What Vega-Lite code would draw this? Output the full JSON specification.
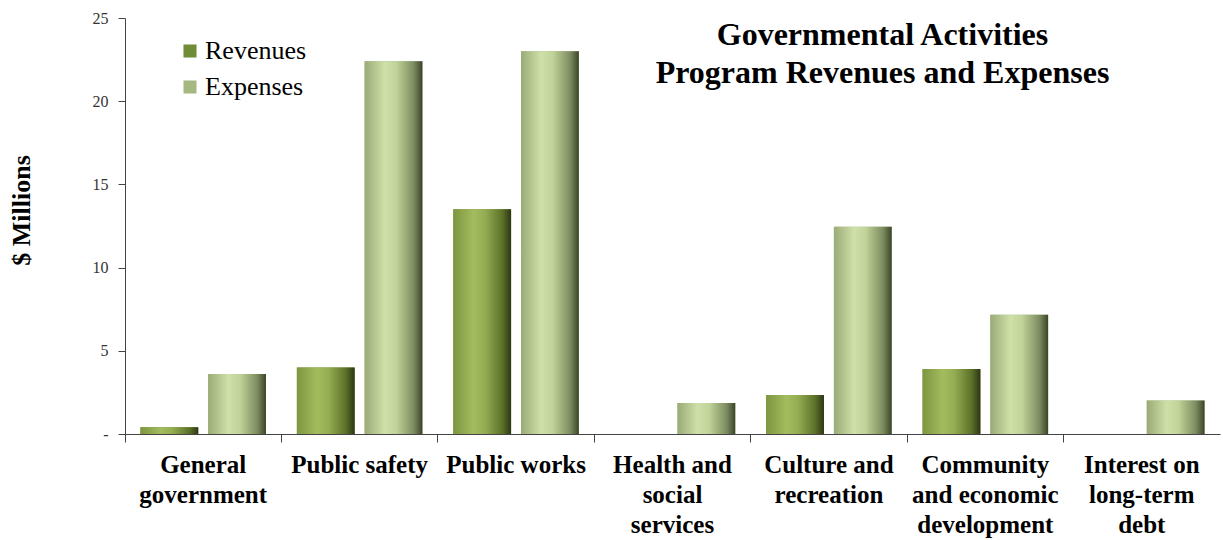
{
  "$schema": "https://vega.github.io/schema/vega-lite/v6.json",
  "autosize": {"type": "none"},
  "padding": {"left": 125, "top": 18, "right": 3, "bottom": 106},
  "width": 1095,
  "height": 416,
  "background": "white",
  "title": {
    "text": ["Governmental Activities", "Program Revenues and Expenses"],
    "anchor": "middle",
    "frame": "group",
    "orient": "top",
    "offset": -112,
    "dx": 210,
    "baseline": "bottom",
    "font": "Liberation Serif",
    "fontWeight": "bold",
    "fontSize": 32,
    "lineHeight": 38,
    "color": "#000000"
  },
  "data": {
    "values": [
      {"category": "General government", "series": "Revenues", "value": 0.4},
      {"category": "General government", "series": "Expenses", "value": 3.6},
      {"category": "Public safety", "series": "Revenues", "value": 4.0},
      {"category": "Public safety", "series": "Expenses", "value": 22.4},
      {"category": "Public works", "series": "Revenues", "value": 13.5},
      {"category": "Public works", "series": "Expenses", "value": 23.0},
      {"category": "Health and social services", "series": "Revenues", "value": 0},
      {"category": "Health and social services", "series": "Expenses", "value": 1.86},
      {"category": "Culture and recreation", "series": "Revenues", "value": 2.34},
      {"category": "Culture and recreation", "series": "Expenses", "value": 12.45},
      {"category": "Community and economic development", "series": "Revenues", "value": 3.9},
      {"category": "Community and economic development", "series": "Expenses", "value": 7.16},
      {"category": "Interest on long-term debt", "series": "Revenues", "value": 0},
      {"category": "Interest on long-term debt", "series": "Expenses", "value": 2.02}
    ]
  },
  "encoding": {
    "x": {
      "field": "category",
      "type": "nominal",
      "sort": null,
      "scale": {"paddingInner": 0, "paddingOuter": 0},
      "axis": {
        "title": null,
        "bandPosition": 0,
        "labelAngle": 0,
        "labelFont": "Liberation Serif",
        "labelFontWeight": "bold",
        "labelFontSize": 25,
        "labelLineHeight": 30,
        "labelColor": "#000000",
        "labelPadding": 10,
        "labelLimit": 0,
        "labelOverlap": false,
        "tickSize": 8,
        "tickColor": "#444444",
        "domainColor": "#444444",
        "labelExpr": "{'General government': ['General', 'government'], 'Public safety': 'Public safety', 'Public works': 'Public works', 'Health and social services': ['Health and', 'social', 'services'], 'Culture and recreation': ['Culture and', 'recreation'], 'Community and economic development': ['Community', 'and economic', 'development'], 'Interest on long-term debt': ['Interest on', 'long-term', 'debt']}[datum.label]"
      }
    },
    "xOffset": {
      "field": "series",
      "type": "nominal",
      "sort": ["Revenues", "Expenses"],
      "scale": {"domain": ["Revenues", "Expenses"], "paddingInner": 0.147, "paddingOuter": 0.228}
    },
    "y": {
      "field": "value",
      "type": "quantitative",
      "scale": {"domain": [0, 25], "nice": false},
      "axis": {
        "title": "$ Millions",
        "titleFont": "Liberation Serif",
        "titleFontWeight": "bold",
        "titleFontSize": 26,
        "titleColor": "#000000",
        "titlePadding": 58,
        "titleY": 192,
        "values": [0, 5, 10, 15, 20, 25],
        "labelExpr": "datum.value == 0 ? '-' : datum.label",
        "labelFont": "Liberation Serif",
        "labelFontSize": 16,
        "labelColor": "#333333",
        "labelPadding": 10,
        "tickSize": 7,
        "tickColor": "#444444",
        "domainColor": "#444444",
        "grid": false
      }
    }
  },
  "layer": [
    {
      "mark": {"type": "bar"},
      "encoding": {
        "color": {
          "field": "series",
          "type": "nominal",
          "scale": {"domain": ["Revenues", "Expenses"], "range": ["#718c38", "#a5b882"]},
          "legend": {
            "title": null,
            "orient": "none",
            "legendX": 52,
            "legendY": 20,
            "symbolType": "square",
            "symbolSize": 170,
            "symbolStrokeWidth": 0,
            "labelFont": "Liberation Serif",
            "labelFontSize": 26,
            "labelColor": "#000000",
            "labelOffset": 2,
            "rowPadding": 10
          }
        }
      }
    },
    {
      "mark": {"type": "bar"},
      "encoding": {
        "color": {
          "condition": {
            "test": "datum.series == 'Revenues'",
            "value": {"gradient": "linear", "x1": 0, "y1": 0, "x2": 1, "y2": 0, "stops": [
              {"offset": 0, "color": "#7d9640"},
              {"offset": 0.35, "color": "#a3bc5e"},
              {"offset": 0.55, "color": "#94ad52"},
              {"offset": 0.85, "color": "#5c7028"},
              {"offset": 1, "color": "#2c3614"}
            ]}
          },
          "value": {"gradient": "linear", "x1": 0, "y1": 0, "x2": 1, "y2": 0, "stops": [
            {"offset": 0, "color": "#9aab78"},
            {"offset": 0.35, "color": "#cfe0a8"},
            {"offset": 0.55, "color": "#c0d398"},
            {"offset": 0.85, "color": "#7d8c60"},
            {"offset": 1, "color": "#3a4428"}
          ]}
        }
      }
    }
  ],
  "config": {
    "view": {"stroke": null}
  }
}
